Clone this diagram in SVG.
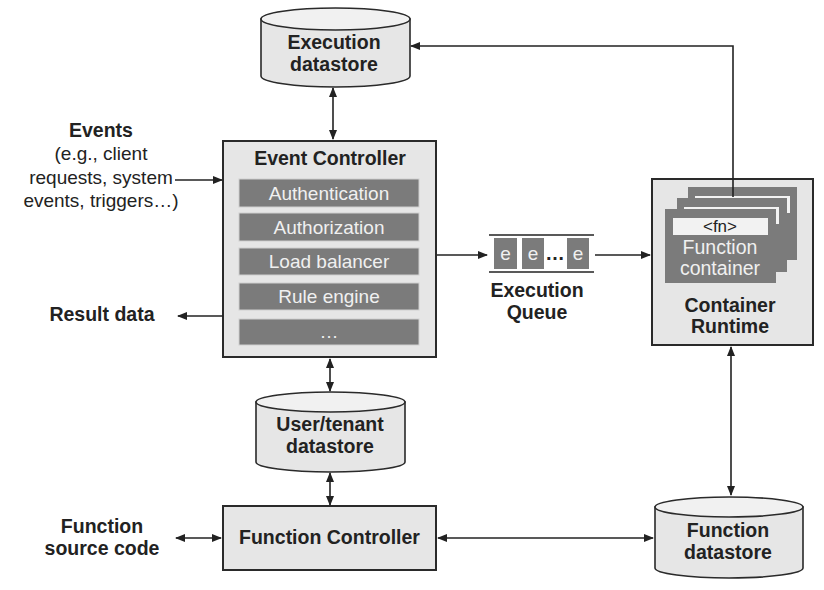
<svg xmlns="http://www.w3.org/2000/svg" width="824" height="590" viewBox="0 0 824 590">
<defs>
<marker id="ah" markerWidth="10" markerHeight="8" refX="9" refY="4" orient="auto-start-reverse" markerUnits="userSpaceOnUse">
<path d="M0,0 L10,4 L0,8 z" fill="#222"/>
</marker>
<style>
.box{fill:#e6e6e6;stroke:#2a2a2a;stroke-width:2}
.cyl{fill:#e6e6e6;stroke:#2a2a2a;stroke-width:1.6}
.cyltop{fill:#f1f1f1;stroke:#2a2a2a;stroke-width:1.6}
.bar{fill:#7b7b7b;stroke:#cfcfcf;stroke-width:1}
.card{fill:#7b7b7b}
.lbl{fill:#f2f2f2}
.b{font-family:"Liberation Sans",Arial,sans-serif;font-weight:bold;font-size:19.5px;fill:#222;text-anchor:middle}
.r{font-family:"Liberation Sans",Arial,sans-serif;font-size:19px;fill:#222;text-anchor:middle}
.w{font-family:"Liberation Sans",Arial,sans-serif;font-size:19px;fill:#f0f0f0;text-anchor:middle}
.ln{stroke:#222;stroke-width:1.6;fill:none}
</style>
</defs>
<rect width="824" height="590" fill="#ffffff"/>

<g id="execution-datastore">
<path class="cyl" d="M261,19 L261,76 A74.5,11 0 0 0 410,76 L410,19 Z"/>
<ellipse class="cyltop" cx="335.5" cy="19" rx="74.5" ry="11"/>
<text class="b" x="334" y="49">Execution</text>
<text class="b" x="334" y="71">datastore</text>
</g>

<g id="events">
<text class="b" x="101" y="137">Events</text>
<text class="r" x="101" y="160">(e.g., client</text>
<text class="r" x="101" y="184">requests, system</text>
<text class="r" x="101" y="207">events, triggers…)</text>
</g>

<g id="result-data">
<text class="b" x="102" y="321">Result data</text>
</g>

<g id="event-controller">
<rect class="box" x="223" y="141" width="213" height="216"/>
<text class="b" x="330" y="165">Event Controller</text>
<rect class="bar" x="239" y="179" width="180" height="28"/>
<text class="w" x="329" y="200">Authentication</text>
<rect class="bar" x="239" y="213" width="180" height="28"/>
<text class="w" x="329" y="234">Authorization</text>
<rect class="bar" x="239" y="248" width="180" height="27"/>
<text class="w" x="329" y="268">Load balancer</text>
<rect class="bar" x="239" y="283" width="180" height="27"/>
<text class="w" x="329" y="303">Rule engine</text>
<rect class="bar" x="239" y="319" width="180" height="26"/>
<text class="w" x="329" y="338">…</text>
</g>

<g id="execution-queue">
<line class="ln" x1="489" y1="235" x2="594" y2="235"/>
<line class="ln" x1="489" y1="272" x2="594" y2="272"/>
<rect class="card" x="494" y="238" width="23" height="31"/>
<rect class="card" x="522" y="238" width="22" height="31"/>
<rect class="card" x="567" y="238" width="22" height="31"/>
<text class="w" x="505.5" y="260">e</text>
<text class="w" x="533" y="260">e</text>
<text class="w" x="578" y="260">e</text>
<text class="b" x="555" y="260">…</text>
<text class="b" x="537" y="297">Execution</text>
<text class="b" x="537" y="319">Queue</text>
</g>

<g id="container-runtime">
<rect class="box" x="652" y="179" width="161" height="166"/>
<rect class="card" x="688" y="187" width="109" height="73"/>
<rect class="lbl" x="695" y="196" width="95" height="17"/>
<rect class="card" x="677" y="198" width="110" height="74"/>
<rect class="lbl" x="684" y="207" width="95" height="17"/>
<rect class="card" x="665" y="209" width="111" height="74"/>
<rect class="lbl" x="673" y="218" width="95" height="17"/>
<text x="720" y="232" style="font-family:'Liberation Sans',Arial,sans-serif;font-size:17px;fill:#222;text-anchor:middle">&lt;fn&gt;</text>
<text class="w" x="720" y="254" style="font-size:19.5px">Function</text>
<text class="w" x="720" y="275" style="font-size:19.5px">container</text>
<text class="b" x="730" y="312">Container</text>
<text class="b" x="730" y="333">Runtime</text>
</g>

<g id="user-tenant-datastore">
<path class="cyl" d="M256,402 L256,462 A74.5,10 0 0 0 405,462 L405,402 Z"/>
<ellipse class="cyltop" cx="330.5" cy="402" rx="74.5" ry="10"/>
<text class="b" x="330" y="431">User/tenant</text>
<text class="b" x="330" y="453">datastore</text>
</g>

<g id="function-controller">
<rect class="box" x="223" y="506" width="213" height="64"/>
<text class="b" x="329.5" y="544">Function Controller</text>
</g>

<g id="function-source-code">
<text class="b" x="102" y="533">Function</text>
<text class="b" x="102" y="555">source code</text>
</g>

<g id="function-datastore">
<path class="cyl" d="M655,507 L655,568 A74,10 0 0 0 803,568 L803,507 Z"/>
<ellipse class="cyltop" cx="729" cy="507" rx="74" ry="10"/>
<text class="b" x="728" y="537">Function</text>
<text class="b" x="728" y="559">datastore</text>
</g>

<g id="connectors">
<line class="ln" x1="333" y1="88" x2="333" y2="139" marker-start="url(#ah)" marker-end="url(#ah)"/>
<polyline class="ln" points="733,197 733,46 411,46" marker-end="url(#ah)"/>
<line class="ln" x1="175" y1="180" x2="222" y2="180" marker-end="url(#ah)"/>
<line class="ln" x1="223" y1="316" x2="178" y2="316" marker-end="url(#ah)"/>
<line class="ln" x1="437" y1="255" x2="487" y2="255" marker-end="url(#ah)"/>
<line class="ln" x1="595" y1="255" x2="650" y2="255" marker-end="url(#ah)"/>
<line class="ln" x1="330" y1="359" x2="330" y2="391" marker-start="url(#ah)" marker-end="url(#ah)"/>
<line class="ln" x1="330" y1="473" x2="330" y2="505" marker-start="url(#ah)" marker-end="url(#ah)"/>
<line class="ln" x1="176" y1="538" x2="221" y2="538" marker-start="url(#ah)" marker-end="url(#ah)"/>
<line class="ln" x1="438" y1="538" x2="653" y2="538" marker-start="url(#ah)" marker-end="url(#ah)"/>
<line class="ln" x1="731" y1="347" x2="731" y2="495" marker-start="url(#ah)" marker-end="url(#ah)"/>
</g>
</svg>
